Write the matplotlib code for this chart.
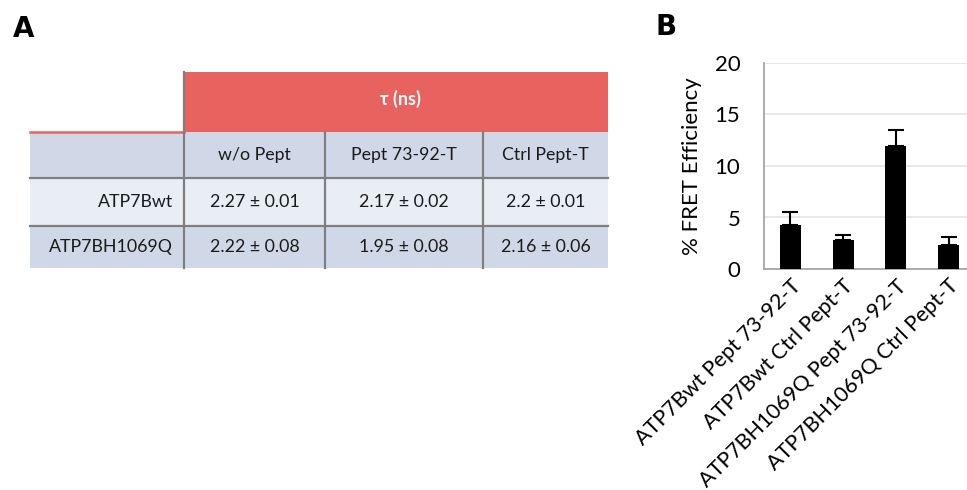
import matplotlib
matplotlib.use("Agg")
import matplotlib.pyplot as plt
from matplotlib.patches import Rectangle

plt.rcParams['font.family'] = ['Lato', 'DejaVu Sans']

# ---------------- data ----------------
table_header = "τ (ns)"
col_labels = ["w/o Pept", "Pept 73-92-T", "Ctrl Pept-T"]
row_labels = ["ATP7Bwt", "ATP7BH1069Q"]
cell_values = [["2.27 ± 0.01", "2.17 ± 0.02", "2.2 ± 0.01"],
               ["2.22 ± 0.08", "1.95 ± 0.08", "2.16 ± 0.06"]]

bar_categories = ["ATP7Bwt Pept 73-92-T", "ATP7Bwt Ctrl Pept-T",
                  "ATP7BH1069Q Pept 73-92-T", "ATP7BH1069Q Ctrl Pept-T"]
fret_values = [4.25, 2.8, 11.95, 2.3]
fret_errors = [1.25, 0.5, 1.5, 0.8]
y_ticks = [0, 5, 10, 15, 20]

W, H = 967, 490
fig = plt.figure(figsize=(W / 100, H / 100), dpi=100)

# ---------------- panel A: table ----------------
axT = fig.add_axes([0, 0, 1, 1])
axT.set_xlim(0, W)
axT.set_ylim(H, 0)
axT.axis('off')

col_edges = [30, 184, 325, 483, 608]
row_edges = [72, 132, 178, 226, 268]
red = '#E8635F'
dark = '#D0D8E8'
light = '#E9EDF4'
line_gray = '#7F7F7F'

# header red band
axT.add_patch(Rectangle((col_edges[1], row_edges[0]), col_edges[-1] - col_edges[1],
                        row_edges[1] - row_edges[0], facecolor=red, edgecolor='none'))
axT.text((col_edges[1] + col_edges[-1]) / 2 + 4, (row_edges[0] + row_edges[1]) / 2 - 3,
         table_header, color='white', fontsize=13, fontweight='bold',
         ha='center', va='center')
# thin red line under blank corner
axT.plot([col_edges[0], col_edges[1]], [row_edges[1], row_edges[1]], color=red, lw=1.8)

row_colors = [dark, light, dark]
for r in range(3):
    y0, y1 = row_edges[r + 1], row_edges[r + 2]
    axT.add_patch(Rectangle((col_edges[0], y0), col_edges[-1] - col_edges[0], y1 - y0,
                            facecolor=row_colors[r], edgecolor='none'))

fs_tab = 12.8
for c, lab in enumerate(col_labels):
    axT.text((col_edges[c + 1] + col_edges[c + 2]) / 2, (row_edges[1] + row_edges[2]) / 2,
             lab, fontsize=fs_tab, ha='center', va='center', color='#1a1a1a')
for r, lab in enumerate(row_labels):
    yc = (row_edges[r + 2] + row_edges[r + 3]) / 2
    axT.text(col_edges[1] - 11, yc, lab, fontsize=fs_tab, ha='right', va='center', color='#1a1a1a')
    for c, val in enumerate(cell_values[r]):
        axT.text((col_edges[c + 1] + col_edges[c + 2]) / 2, yc, val, fontsize=fs_tab,
                 ha='center', va='center', color='#1a1a1a')

# grid lines
for y in row_edges[2:4]:
    axT.plot([col_edges[0], col_edges[-1]], [y, y], color=line_gray, lw=1.6)
axT.plot([col_edges[1], col_edges[1]], [row_edges[0], row_edges[-1]], color=line_gray, lw=1.6)
for x in col_edges[2:4]:
    axT.plot([x, x], [row_edges[1], row_edges[-1]], color=line_gray, lw=1.6)

fig.text(13 / W, 1 - 29 / H, "A", fontsize=20, fontweight='bold', va='center', ha='left',
         family=['DejaVu Sans'])
fig.text(656 / W, 1 - 27 / H, "B", fontsize=20, fontweight='bold', va='center', ha='left',
         family=['DejaVu Sans'])

# ---------------- panel B: bar chart ----------------
ax_l, ax_r, ax_t, ax_b = 764, 975, 63, 269
ax = fig.add_axes([ax_l / W, 1 - ax_b / H, (ax_r - ax_l) / W, (ax_b - ax_t) / H])
x = list(range(len(bar_categories)))
ax.bar(x, fret_values, width=0.4, color='black', zorder=3)
ax.errorbar(x, fret_values, yerr=[[0] * len(x), fret_errors], fmt='none',
            ecolor='black', elinewidth=1.5, capsize=6, capthick=1.5, zorder=4)
ax.set_xlim(-0.5, len(x) - 0.5)
ax.set_ylim(0, 20)
ax.set_yticks(y_ticks)
ax.set_yticklabels([str(t) for t in y_ticks], fontsize=16)
ax.yaxis.grid(True, color='#E4E4E4', lw=1.2, zorder=0)
ax.set_axisbelow(True)
ax.tick_params(axis='y', length=0, pad=17)
ax.tick_params(axis='x', length=0, pad=5)
ax.set_xticks(x)
ax.set_xticklabels(bar_categories, rotation=45, ha='right', va='top',
                   rotation_mode='anchor', fontsize=15.5)
for s in ['top', 'right']:
    ax.spines[s].set_visible(False)
for s in ['left', 'bottom']:
    ax.spines[s].set_color('#A6A6A6')
    ax.spines[s].set_linewidth(1.3)
ax.set_ylabel("% FRET Efficiency", fontsize=16, labelpad=9)

fig.savefig("out.png", dpi=100)
